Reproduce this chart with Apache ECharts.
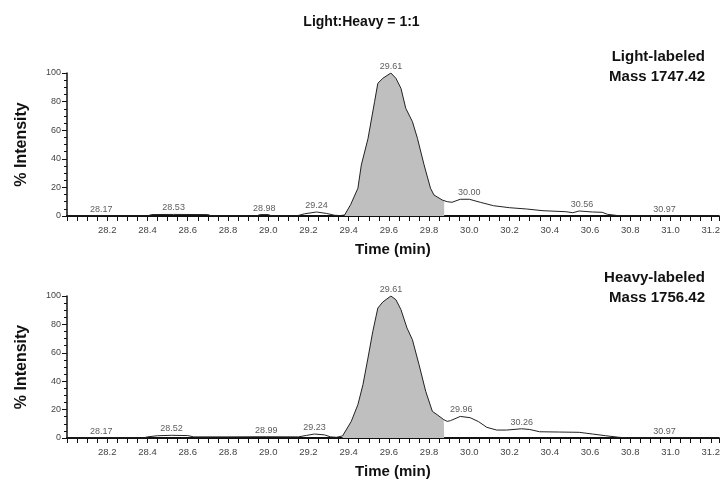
<!DOCTYPE html>
<html>
<head>
<meta charset="utf-8">
<script src="https://cdn.jsdelivr.net/npm/echarts@6/dist/echarts.min.js"></script>
<style>html,body{margin:0;padding:0;background:#fff;}#c{width:723px;height:487px;}</style>
</head>
<body>
<div id="c"></div>
<script>
// ---- data ----
var chartTitle = 'Light:Heavy = 1:1';
var topLabel = 'Light-labeled\nMass 1747.42';
var bottomLabel = 'Heavy-labeled\nMass 1756.42';
var xName = 'Time (min)';
var yName = '% Intensity';

var topTimes  = [28.00,28.10,28.17,28.25,28.40,28.42,28.53,28.70,28.72,28.94,28.96,29.00,29.02,29.14,29.18,29.24,29.29,29.33,29.36,29.38,29.41,29.446,29.463,29.496,29.529,29.545,29.57,29.61,29.635,29.66,29.684,29.717,29.742,29.775,29.807,29.824,29.865,29.89,29.914,29.955,30.00,30.054,30.12,30.20,30.284,30.366,30.48,30.514,30.546,30.612,30.66,30.686,30.743,30.90,30.97,31.05,31.24];
var topValues = [0,0,0.2,0,0,1,1.1,1,0,0,1,1,0,0,1.5,2.8,1.8,0.5,0.3,0.7,8,19.4,35.7,54,80,92.8,96.3,100,96.3,89.3,75.3,66,54.3,35.7,19.4,14.7,11.2,10,9.6,11.7,11.7,9.6,7.2,5.8,4.9,3.7,3.0,2.3,3.5,2.8,2.6,1.2,0.2,0,0.3,0,0];

var bottomTimes  = [28.00,28.17,28.38,28.40,28.45,28.52,28.60,28.63,28.80,28.99,29.15,29.19,29.23,29.28,29.31,29.34,29.37,29.413,29.446,29.471,29.496,29.52,29.545,29.57,29.61,29.635,29.66,29.69,29.717,29.75,29.783,29.816,29.84,29.873,29.89,29.906,29.955,30.004,30.046,30.087,30.136,30.185,30.26,30.30,30.349,30.448,30.546,30.612,30.678,30.743,30.80,30.97,31.24];
var bottomValues = [0,0.2,0,0.8,1.6,1.9,1.7,0.8,0.8,0.9,0.8,1.8,2.8,2.2,0.8,0.5,1.5,11.7,23.5,37.5,56.3,75,91.5,95.8,100,97.4,90.4,77.5,69.2,51.6,32.9,18.8,16.4,12.9,11.7,12.2,15.2,14.3,11.5,7.5,5.6,5.6,6.5,6.0,4.4,4.2,4.0,2.8,1.6,0.5,0,0.2,0];

var topFill = [29.38, 29.875];
var bottomFill = [29.37, 29.875];

var topPeaks = [28.17,28.53,28.98,29.24,29.61,30.00,30.56,30.97];
var topPeakHeights = [0.2,1.1,1,2.8,100,11.7,3.5,0.3];
var bottomPeaks = [28.17,28.52,28.99,29.23,29.61,29.96,30.26,30.97];
var bottomPeakHeights = [0.2,1.9,0.9,2.8,100,15.2,6.5,0.2];

var xMin = 28.0, xMax = 31.24, xInterval = 0.2;
var yMin = 0, yMax = 100, yInterval = 20;

// ---- helpers ----
function pairs(ts, vs) { return ts.map(function (t, i) { return [t, vs[i]]; }); }
function fillPairs(ts, vs, range) {
  var out = [];
  for (var i = 0; i < ts.length; i++) {
    if (ts[i] >= range[0] && ts[i] <= range[1]) out.push([ts[i], vs[i]]);
  }
  for (var j = 1; j < ts.length; j++) {
    if (ts[j] > range[1]) {
      var f = (range[1] - ts[j-1]) / (ts[j] - ts[j-1]);
      out.push([range[1], vs[j-1] + f * (vs[j] - vs[j-1])]);
      break;
    }
  }
  return out;
}

var axisColor = '#111';
var fam = 'Liberation Sans, Arial, sans-serif';

function xAxis(idx, gap) {
  return {
    type: 'value', gridIndex: idx, min: xMin, max: xMax, interval: xInterval,
    name: xName, nameLocation: 'middle', nameGap: gap,
    nameTextStyle: { fontSize: 15, fontWeight: 'bold', color: '#111', fontFamily: fam },
    axisLine: { show: true, onZero: false, lineStyle: { color: axisColor, width: 2 } },
    axisTick: { show: true, length: 5, lineStyle: { color: axisColor, width: 1 } },
    minorTick: { show: true, splitNumber: 4, length: 5, lineStyle: { color: axisColor, width: 1 } },
    splitLine: { show: false },
    axisLabel: { margin: 9, showMinLabel: false, fontSize: 9.5, color: '#444', fontFamily: fam,
      formatter: function (v) { return v.toFixed(1); } }
  };
}
function yAxis(idx) {
  return {
    type: 'value', gridIndex: idx, min: yMin, max: yMax, interval: yInterval,
    name: yName, nameLocation: 'middle', nameGap: 37, nameRotate: 90,
    nameTextStyle: { fontSize: 16, fontWeight: 'bold', color: '#111', fontFamily: fam },
    axisLine: { show: true, lineStyle: { color: axisColor, width: 1.5 } },
    axisTick: { show: true, length: 5, lineStyle: { color: axisColor, width: 1 } },
    minorTick: { show: true, splitNumber: 4, length: 3, lineStyle: { color: axisColor, width: 1 } },
    splitLine: { show: false },
    axisLabel: { margin: 6, fontSize: 9, color: '#444', fontFamily: fam }
  };
}
function traceSeries(idx, data) {
  return { type: 'line', xAxisIndex: idx, yAxisIndex: idx, data: data, showSymbol: false, symbol: 'none',
    lineStyle: { color: '#222', width: 1 }, z: 3, animation: false };
}
function fillSeries(idx, data) {
  return { type: 'line', xAxisIndex: idx, yAxisIndex: idx, data: data, showSymbol: false, symbol: 'none',
    lineStyle: { width: 0, opacity: 0 }, areaStyle: { color: '#bfbfbf', opacity: 1 }, z: 2, animation: false };
}
function peakSeries(idx, ts, hs) {
  return { type: 'scatter', xAxisIndex: idx, yAxisIndex: idx, data: pairs(ts, hs), symbolSize: 0, z: 4,
    silent: true, animation: false,
    label: { show: true, position: 'top', distance: 2, fontSize: 9, color: '#333', fontFamily: fam,
      formatter: function (p) { return p.value[0].toFixed(2); } } };
}
function panelLabel(text, y) {
  return { type: 'text', x: 705, y: y, z: 10,
    style: { text: text, align: 'right', verticalAlign: 'top', fontSize: 15, fontWeight: 'bold',
      fontFamily: fam, fill: '#111', lineHeight: 20 } };
}

var chart = echarts.init(document.getElementById('c'), null, { renderer: 'canvas' });
chart.setOption({
  backgroundColor: '#fff',
  animation: false,
  title: [
    { text: chartTitle, left: 'center', top: 10, textStyle: { fontSize: 14, fontWeight: 'bold', color: '#111', fontFamily: fam } }
  ],
  graphic: [panelLabel(topLabel, 47), panelLabel(bottomLabel, 268)],
  grid: [
    { left: 67, right: 0, top: 73, height: 143 },
    { left: 67, right: 0, top: 296, height: 142 }
  ],
  xAxis: [xAxis(0, 26), xAxis(1, 26)],
  yAxis: [yAxis(0), yAxis(1)],
  series: [
    fillSeries(0, fillPairs(topTimes, topValues, topFill)),
    traceSeries(0, pairs(topTimes, topValues)),
    peakSeries(0, topPeaks, topPeakHeights),
    fillSeries(1, fillPairs(bottomTimes, bottomValues, bottomFill)),
    traceSeries(1, pairs(bottomTimes, bottomValues)),
    peakSeries(1, bottomPeaks, bottomPeakHeights)
  ]
});
</script>
</body>
</html>
